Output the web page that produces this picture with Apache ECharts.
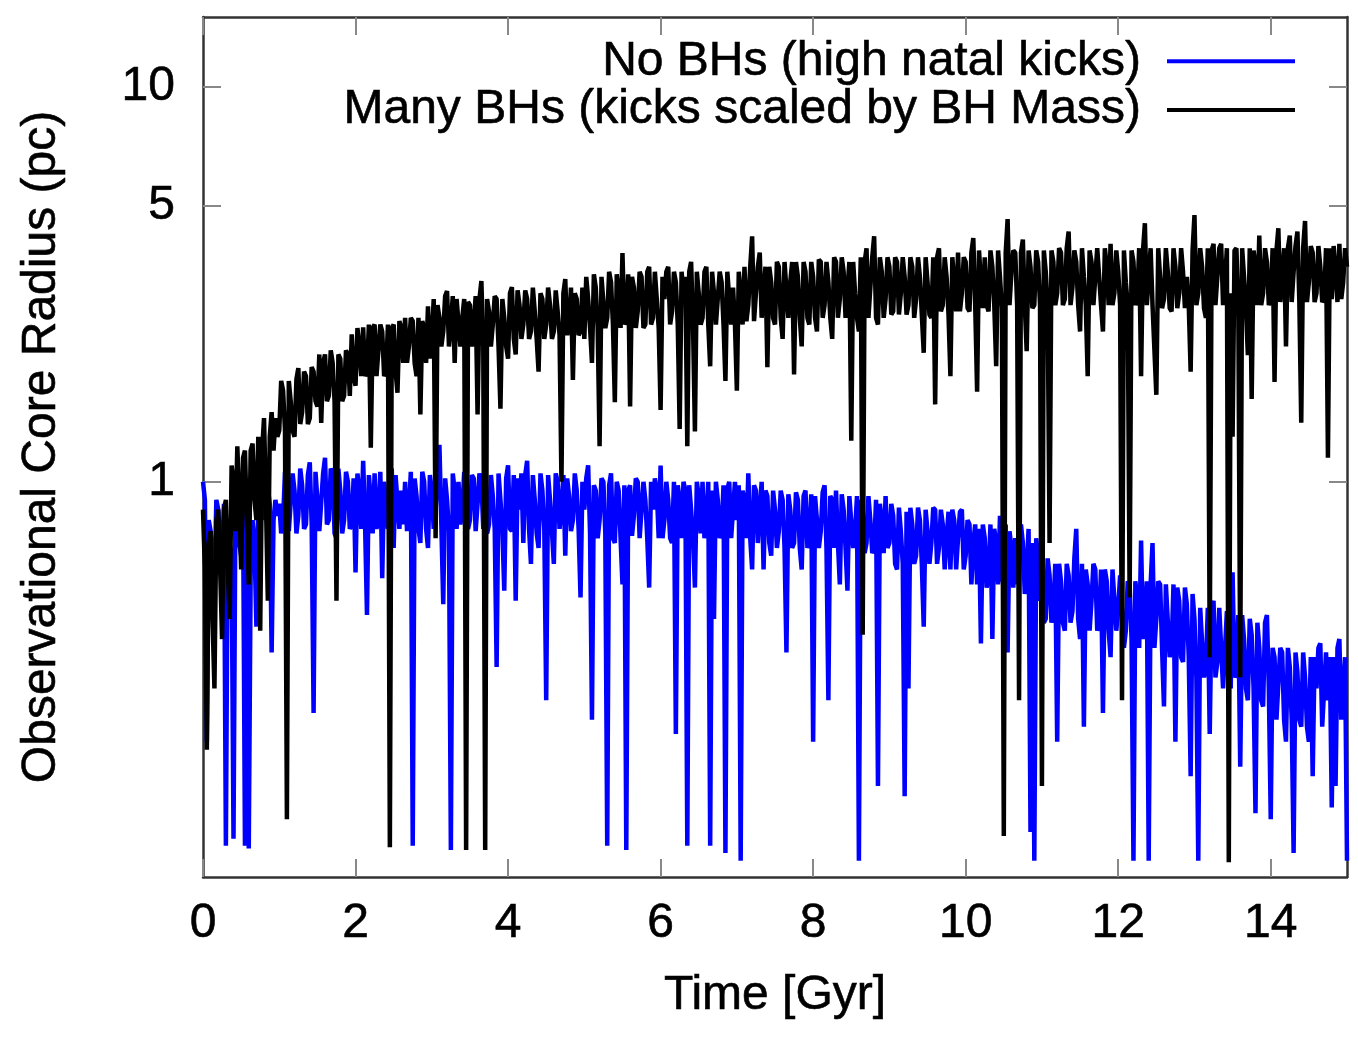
<!DOCTYPE html>
<html><head><meta charset="utf-8">
<script src="https://cdn.jsdelivr.net/npm/echarts@6/dist/echarts.min.js"></script>
<style>html,body{margin:0;padding:0;background:#fff}#c{width:1358px;height:1037px}</style>
</head><body><div id="c"></div>
<script>
// Sampling step of the time grid (Gyr)
const TIME_STEP = 0.025;

// Observational core radius (pc), "No BHs (high natal kicks)", t = 0 ... 15 Gyr (one row per Gyr)
const noBHsRadius = [
  1.0,0.9, 0.22,0.8, 0.75,0.6, 0.55,0.9, 0.85,0.7, 0.62,0.88, 0.12,0.8, 0.7,0.65, 0.125,0.85, 0.78,0.7, 0.65,0.9, 0.12,0.75, 0.118,0.6, 0.8,0.7, 0.43,0.9, 0.88,0.8, 0.95,0.85, 0.97,0.88, 0.37,0.8, 0.9,0.82,
  0.88,0.74, 0.8,1.06, 0.92,0.75, 0.75,1.05, 0.95,0.74, 0.82,1.08, 0.98,0.76, 0.78,1.04, 1.12,0.78, 0.26,1.06, 0.9,0.75, 0.75,1.05, 1.15,0.78, 0.8,1.08, 1.05,0.74, 0.72,1.08, 0.95,0.74, 0.8,1.06, 1.0,0.76, 0.78,1.02,
  0.59,1.05, 0.95,0.76, 1.13,0.78, 0.46,1.04, 0.9,0.74, 1.05,0.76, 0.82,1.06, 0.57,1.0, 1.0,0.76, 0.9,1.08, 0.68,1.04, 1.05,0.76, 0.95,0.78, 1.0,0.75, 0.85,1.06, 0.12,1.02, 0.92,0.76, 0.7,1.06, 1.0,0.76, 0.68,1.04,
  0.95,0.76, 0.85,1.04, 1.24,0.78, 0.49,1.02, 0.9,0.75, 0.117,1.05, 0.95,0.76, 1.0,0.78, 0.85,1.06, 1.05,0.76, 0.8,1.04, 1.02,0.75, 0.88,1.05, 1.0,0.76, 0.95,0.74, 0.78,1.04, 0.92,0.76, 0.34,1.05, 0.9,0.76, 0.53,1.02,
  1.1,0.76, 0.75,1.04, 0.5,1.02, 0.85,1.05, 0.7,1.04, 1.13,0.76, 0.62,1.04, 0.9,0.74, 0.68,1.05, 0.95,0.76, 0.28,1.04, 0.9,0.75, 0.62,1.05, 1.0,0.76, 0.85,1.04, 0.65,1.02, 0.92,0.75, 0.8,1.05, 0.95,0.76, 0.51,1.0,
  0.85,1.02, 1.1,0.74, 0.25,0.98, 0.95,0.72, 0.8,1.02, 1.0,0.74, 0.12,0.98, 1.05,0.72, 0.7,1.0, 0.95,0.72, 0.55,0.98, 0.117,0.95, 0.98,0.73, 0.82,1.02, 1.0,0.72, 0.85,1.0, 0.9,0.72, 0.54,1.0, 0.85,1.02, 0.95,0.72,
  1.1,0.72, 0.8,1.0, 0.9,0.72, 0.7,1.0, 0.23,0.98, 0.9,0.72, 1.0,0.95, 0.12,0.98, 0.85,0.72, 0.54,1.0, 0.92,0.74, 1.0,0.72, 0.8,1.0, 0.12,0.95, 0.45,1.0, 0.9,0.72, 0.75,0.98, 0.115,0.96, 1.0,0.72, 0.85,1.0,
  0.8,0.98, 0.11,0.95, 0.9,0.72, 1.05,0.72, 0.6,0.98, 0.95,0.7, 0.85,1.0, 0.6,0.95, 0.92,0.7, 0.65,0.95, 0.85,0.68, 0.75,0.95, 0.9,0.68, 0.37,0.93, 0.85,0.68, 0.7,0.94, 0.9,0.68, 0.6,0.92, 0.95,0.68, 0.72,0.93,
  0.22,0.92, 0.8,0.68, 0.75,0.94, 0.98,0.68, 0.28,0.92, 0.9,0.68, 0.95,0.7, 0.55,0.93, 0.85,0.68, 0.53,0.92, 0.92,0.68, 0.75,0.92, 0.11,0.9, 0.85,0.66, 0.7,0.92, 0.8,0.66, 0.68,0.9, 0.17,0.88, 0.8,0.66, 0.92,0.68,
  0.7,0.88, 0.82,0.62, 0.6,0.86, 0.75,0.62, 0.16,0.84, 0.3,0.86, 0.78,0.62, 0.65,0.86, 0.8,0.62, 0.43,0.85, 0.75,0.62, 0.7,0.86, 0.85,0.62, 0.68,0.85, 0.78,0.6, 0.72,0.84, 0.6,0.85, 0.8,0.6, 0.72,0.84, 0.85,0.6,
  0.65,0.8, 0.78,0.55, 0.7,0.78, 0.55,0.76, 0.39,0.78, 0.72,0.54, 0.58,0.78, 0.4,0.76, 0.7,0.55, 0.82,0.56, 0.6,0.78, 0.37,0.75, 0.68,0.54, 0.72,0.55, 0.55,0.78, 0.7,0.52, 0.6,0.76, 0.13,0.7, 0.11,0.72, 0.65,0.5,
  0.62,0.44, 0.45,0.64, 0.58,0.44, 0.48,0.62, 0.22,0.62, 0.56,0.44, 0.42,0.62, 0.58,0.44, 0.47,0.64, 0.76,0.45, 0.4,0.62, 0.24,0.6, 0.55,0.42, 0.5,0.62, 0.6,0.42, 0.44,0.6, 0.26,0.6, 0.56,0.42, 0.36,0.6, 0.6,0.42,
  0.48,0.58, 0.58,0.38, 0.42,0.56, 0.55,0.4, 0.11,0.56, 0.5,0.38, 0.71,0.4, 0.45,0.56, 0.11,0.55, 0.7,0.38, 0.45,0.56, 0.55,0.38, 0.27,0.55, 0.55,0.36, 0.38,0.55, 0.22,0.54, 0.5,0.36, 0.35,0.54, 0.49,0.36, 0.18,0.52,
  0.45,0.32, 0.11,0.48, 0.48,0.32, 0.34,0.48, 0.23,0.48, 0.5,0.32, 0.35,0.48, 0.48,0.3, 0.3,0.47, 0.46,0.3, 0.59,0.32, 0.33,0.46, 0.19,0.46, 0.4,0.3, 0.28,0.45, 0.41,0.3, 0.145,0.44, 0.38,0.28, 0.27,0.44, 0.46,0.3,
  0.14,0.38, 0.36,0.25, 0.25,0.38, 0.37,0.25, 0.22,0.38, 0.34,0.25, 0.115,0.37, 0.33,0.25, 0.24,0.37, 0.32,0.24, 0.22,0.36, 0.18,0.36, 0.3,0.38, 0.39,0.24, 0.24,0.37, 0.28,0.36, 0.15,0.36, 0.17,0.38, 0.4,0.25, 0.3,0.36,
  0.11
];

// Observational core radius (pc), "Many BHs (kicks scaled by BH Mass)", t = 0 ... 15 Gyr (one row per Gyr)
const manyBHsRadius = [
  0.85,0.6, 0.21,0.7, 0.75,0.45, 0.3,0.8, 0.85,0.6, 0.4,0.85, 0.9,0.6, 0.45,1.1, 1.0,0.75, 1.23,0.9, 0.6,1.15, 1.2,0.8, 0.55,1.2, 1.25,0.9, 0.8,1.3, 0.42,1.2, 1.45,0.9, 0.5,1.3, 1.5,1.2, 1.45,1.3,
  1.35,1.8, 1.7,1.35, 0.14,1.8, 1.6,1.35, 1.3,1.82, 1.94,1.4, 1.5,1.9, 1.85,1.4, 1.45,1.95, 1.9,1.6, 1.55,2.1, 1.41,2.0, 2.1,1.6, 1.65,2.15, 2.0,1.6, 0.5,2.1, 2.05,1.6, 1.65,2.15, 2.1,1.65, 2.36,1.85,
  1.75,2.45, 2.2,1.85, 2.46,1.85, 1.9,2.5, 1.22,2.45, 2.5,1.85, 1.85,2.5, 2.4,1.85, 1.9,2.5, 0.119,2.45, 2.5,1.9, 1.68,2.55, 2.45,2.0, 2.6,2.0, 2.2,2.6, 2.55,2.0, 1.85,2.6, 1.48,2.55, 2.45,2.0, 2.78,2.05,
  2.3,2.9, 0.72,2.8, 2.6,2.2, 2.4,2.95, 3.04,2.2, 2.5,2.95, 2.0,2.9, 2.9,2.2, 2.6,2.9, 0.117,2.85, 2.8,2.2, 2.5,2.95, 1.48,2.9, 3.22,2.2, 0.117,2.9, 2.7,2.2, 2.5,2.95, 2.9,2.2, 1.53,2.9, 2.6,2.2,
  2.05,3.0, 3.11,2.3, 2.1,3.05, 2.8,2.3, 2.5,3.05, 2.9,2.3, 2.4,3.1, 2.7,2.3, 1.9,3.0, 2.9,2.3, 2.5,3.1, 2.8,2.3, 2.4,3.05, 2.7,2.35, 1.0,3.0, 3.26,2.35, 2.5,3.1, 1.81,3.0, 2.9,2.35, 2.4,3.1,
  2.3,3.3, 2.9,2.45, 2.0,3.35, 3.1,2.45, 1.23,3.3, 3.3,2.45, 2.6,3.4, 3.2,2.5, 1.59,3.35, 3.0,2.45, 3.79,2.5, 2.6,3.35, 1.55,3.3, 3.1,2.45, 2.7,3.4, 3.3,2.45, 2.5,3.4, 3.5,2.5, 2.6,3.4, 2.9,2.45,
  1.52,3.3, 2.9,3.4, 3.5,2.5, 2.7,3.4, 3.2,2.5, 1.36,3.4, 3.0,3.3, 1.23,3.4, 3.6,2.5, 1.34,3.4, 3.0,2.5, 2.6,3.4, 3.5,2.5, 1.96,3.4, 3.0,2.5, 2.5,3.4, 3.2,2.5, 1.8,3.4, 2.9,2.5, 3.1,2.5,
  1.7,3.4, 3.0,2.5, 3.5,2.55, 2.8,3.5, 4.18,2.55, 3.0,3.5, 3.8,2.6, 2.6,3.5, 1.95,3.5, 3.2,2.6, 2.5,3.6, 3.5,2.6, 2.3,3.6, 3.6,2.6, 3.2,3.6, 1.87,3.6, 3.3,2.6, 2.2,3.6, 3.4,2.6, 2.5,3.6,
  3.3,2.6, 2.4,3.65, 3.6,2.6, 2.8,3.6, 3.2,2.6, 2.3,3.7, 3.6,2.6, 2.9,3.7, 3.4,2.6, 2.6,3.6, 1.27,3.6, 3.0,2.6, 2.4,3.7, 0.41,3.6, 3.9,2.6, 2.6,3.7, 4.18,2.6, 2.5,3.7, 3.4,2.6, 2.9,3.7,
  3.5,2.65, 2.7,3.7, 3.6,2.65, 3.0,3.7, 3.3,2.65, 2.8,3.7, 3.5,2.6, 2.9,3.7, 3.3,2.65, 2.12,3.7, 3.2,2.65, 2.6,3.7, 1.57,3.7, 3.9,2.7, 2.8,3.7, 3.3,2.65, 1.85,3.7, 3.2,2.7, 3.8,2.7, 3.0,3.7,
  3.6,2.75, 2.7,3.8, 4.14,2.8, 1.69,3.85, 3.2,2.75, 3.7,2.8, 2.7,3.85, 3.5,2.8, 1.96,3.85, 3.3,2.75, 0.127,3.8, 4.62,2.8, 3.4,3.85, 3.8,2.8, 0.28,3.8, 4.1,2.8, 2.14,3.85, 3.5,2.75, 2.8,3.85, 3.6,2.8,
  0.17,3.85, 3.4,2.8, 0.70,3.85, 3.6,2.8, 3.0,3.9, 3.8,2.8, 2.9,3.9, 4.3,2.8, 3.1,3.85, 3.6,2.8, 2.4,3.9, 3.3,2.8, 1.85,3.85, 3.6,2.8, 2.8,3.9, 3.9,2.8, 2.4,3.9, 3.5,2.8, 4.0,2.8, 3.0,3.85,
  3.4,2.8, 0.28,3.85, 3.2,2.8, 0.51,3.85, 3.6,2.8, 2.9,3.9, 1.85,3.85, 4.51,2.8, 3.3,3.9, 2.8,2.8, 1.66,3.9, 3.9,2.75, 2.9,3.9, 3.4,2.75, 2.7,3.9, 3.5,2.75, 3.0,3.9, 3.4,2.75, 3.3,2.8, 1.9,3.85,
  4.73,2.8, 3.0,3.9, 3.5,2.75, 2.6,3.9, 0.36,3.85, 4.0,2.8, 2.82,3.9, 4.0,2.8, 3.2,3.9, 0.109,3.0, 1.3,3.85, 3.9,2.8, 0.32,3.9, 3.3,2.75, 2.09,3.9, 1.62,3.85, 3.5,2.8, 4.2,2.8, 3.0,3.9, 3.6,2.8,
  2.9,3.9, 1.79,3.85, 4.38,2.85, 3.3,3.9, 2.2,3.9, 4.2,2.85, 3.4,3.95, 4.3,2.85, 1.41,3.9, 4.57,2.85, 3.2,3.95, 3.8,2.85, 3.0,3.95, 3.5,2.85, 2.9,3.9, 1.15,3.9, 2.9,3.95, 3.4,2.85, 4.0,2.9, 3.2,3.9,
  3.5
];

const xTickValues = [0, 2, 4, 6, 8, 10, 12, 14];
const yTickValues = [1, 5, 10];
const seriesNames = ['No BHs (high natal kicks)', 'Many BHs (kicks scaled by BH Mass)'];
const seriesColors = ['#0000ff', '#000000'];

function toPoints(vals) {
  return vals.map((v, i) => [Math.round(i * TIME_STEP * 1000) / 1000, v]);
}

const FONT = '"Liberation Sans", Arial, Helvetica, sans-serif';
const borderStyle = { color: '#333333', width: 2.5 };
const tickStyle = { color: '#888888', width: 2 };
const labelStyle = { fontFamily: FONT, fontSize: 48, color: '#000000', textBorderColor: '#000000', textBorderWidth: 0.6 };

const chart = echarts.init(document.getElementById('c'), null, { renderer: 'canvas' });

function xAxisDef(pos, main) {
  return {
    type: 'value', min: 0, max: 15, position: pos,
    name: main ? 'Time [Gyr]' : '', nameLocation: 'middle', nameGap: 95,
    nameTextStyle: labelStyle,
    axisLine: { show: true, onZero: false, lineStyle: borderStyle },
    axisTick: { show: true, inside: true, length: 18, customValues: xTickValues, lineStyle: tickStyle },
    axisLabel: main ? Object.assign({ show: true, customValues: xTickValues, margin: 23 }, labelStyle) : { show: false },
    splitLine: { show: false }
  };
}
function yAxisDef(pos, main) {
  return {
    type: 'log', logBase: 10, min: 0.1, max: 15, position: pos,
    name: main ? 'Observational Core Radius (pc)' : '', nameLocation: 'middle', nameGap: 137,
    nameTextStyle: labelStyle,
    axisLine: { show: true, onZero: false, lineStyle: borderStyle },
    axisTick: { show: true, inside: true, length: 18, customValues: yTickValues, lineStyle: tickStyle },
    axisLabel: main ? Object.assign({ show: true, customValues: yTickValues, margin: 28 }, labelStyle) : { show: false },
    splitLine: { show: false }, minorTick: { show: false }
  };
}

chart.setOption({
  animation: false,
  backgroundColor: '#ffffff',
  grid: { left: 203, right: 11, top: 17, bottom: 160 },
  legend: {
    orient: 'vertical', right: 58, top: 32, align: 'right',
    itemWidth: 128, itemHeight: 4, itemGap: 0, icon: 'rect',
    selectedMode: false,
    textStyle: Object.assign({ lineHeight: 48, padding: [0, 21, 0, 0] }, labelStyle),
    data: seriesNames
  },
  xAxis: [xAxisDef('bottom', true), xAxisDef('top', false)],
  yAxis: [yAxisDef('left', true), yAxisDef('right', false)],
  series: [
    {
      name: seriesNames[0], type: 'line', xAxisIndex: 0, yAxisIndex: 0,
      data: toPoints(noBHsRadius), showSymbol: false, symbol: 'none', sampling: null,
      lineStyle: { color: seriesColors[0], width: 4.5 }, itemStyle: { color: seriesColors[0] },
      z: 2
    },
    {
      name: seriesNames[1], type: 'line', xAxisIndex: 0, yAxisIndex: 0,
      data: toPoints(manyBHsRadius), showSymbol: false, symbol: 'none', sampling: null,
      lineStyle: { color: seriesColors[1], width: 4.5 }, itemStyle: { color: seriesColors[1] },
      z: 3
    }
  ]
});
</script></body></html>
